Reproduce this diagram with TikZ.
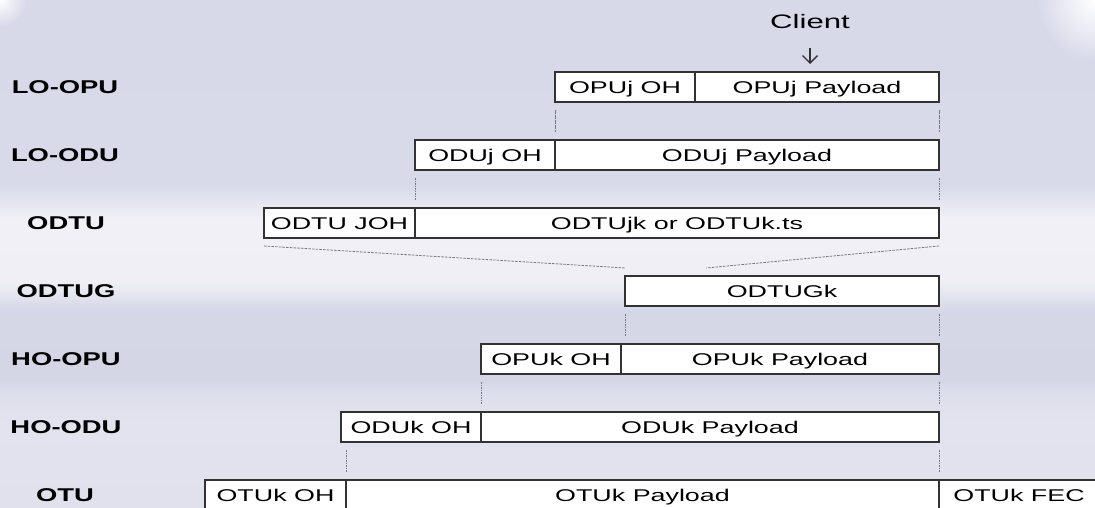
\documentclass[tikz,border=0pt]{standalone}
\usepackage{fontspec}
\setmainfont{Liberation Sans}
\usepackage{graphicx}
\usetikzlibrary{arrows.meta}

% background band colours (top to bottom)
\definecolor{bgA}{RGB}{215,217,233}
\definecolor{bgB}{RGB}{216,218,233}
\definecolor{bgC}{RGB}{222,224,237}
\definecolor{bgD}{RGB}{232,233,242}
\definecolor{bgE}{RGB}{240,240,246}
\definecolor{bgF}{RGB}{239,239,245}
\definecolor{bgG}{RGB}{230,231,240}
\definecolor{bgH}{RGB}{220,222,235}
\definecolor{bgI}{RGB}{213,215,231}
\definecolor{bgJ}{RGB}{212,214,230}
\definecolor{bgK}{RGB}{220,222,235}
\definecolor{bgL}{RGB}{226,227,238}
\definecolor{bgM}{RGB}{224,225,237}
\definecolor{boxline}{RGB}{50,50,50}
\definecolor{guidegray}{RGB}{118,118,128}

% wide lettering
\newcommand{\cw}[1]{\scalebox{1.58}[1]{#1}}
\newcommand{\lw}[1]{\scalebox{1.48}[1]{#1}}

\begin{document}
\begin{tikzpicture}[x=1pt,y=-1pt,
  cell/.style={draw=boxline, fill=white, line width=1.4pt,
    minimum height=30pt, inner sep=0pt, outer sep=0pt, anchor=north west,
    font=\fontsize{17}{20}\selectfont, text height=12.2pt, text depth=0pt},
  rowlabel/.style={font=\fontsize{18.5}{22}\selectfont\bfseries, inner sep=0pt,
    text height=13.3pt, text depth=0pt},
  guide/.style={draw=guidegray, line width=1pt, dash pattern=on 1.6pt off 0.9pt},
  slant/.style={draw=guidegray, line width=0.8pt, dash pattern=on 2.5pt off 1.2pt},
  clientarrow/.style={draw=boxline, line width=1.3pt,
    -{Straight Barb[length=7.5pt,width=15pt]}},
]
\useasboundingbox (0,0) rectangle (1095,508);
\clip (0,0) rectangle (1095,508);

% background bands
\shade[top color=bgA, bottom color=bgB] (0,0) rectangle (1095,185);
\shade[top color=bgB, bottom color=bgC] (0,185) rectangle (1095,195);
\shade[top color=bgC, bottom color=bgD] (0,195) rectangle (1095,207);
\shade[top color=bgD, bottom color=bgE] (0,207) rectangle (1095,218);
\shade[top color=bgE, bottom color=bgF] (0,218) rectangle (1095,282);
\shade[top color=bgF, bottom color=bgG] (0,282) rectangle (1095,292);
\shade[top color=bgG, bottom color=bgH] (0,292) rectangle (1095,302);
\shade[top color=bgH, bottom color=bgI] (0,302) rectangle (1095,312);
\shade[top color=bgI, bottom color=bgJ] (0,312) rectangle (1095,380);
\shade[top color=bgJ, bottom color=bgK] (0,380) rectangle (1095,392);
\shade[top color=bgK, bottom color=bgL] (0,392) rectangle (1095,420);
\shade[top color=bgL, bottom color=bgM] (0,420) rectangle (1095,508);

% light corners
\shade[inner color=white, outer color=bgA] (0,0) circle (26pt);
\shade[inner color=white, outer color=bgA] (1095,0) ellipse (58pt and 62pt);

% row labels
\node[rowlabel] (lLOOPU) at (65,87)  {\lw{LO-OPU}};
\node[rowlabel] (lLOODU) at (65,155) {\lw{LO-ODU}};
\node[rowlabel] (lODTU)  at (66,223) {\lw{ODTU}};
\node[rowlabel] (lODTUG) at (66,291) {\lw{ODTUG}};
\node[rowlabel] (lHOOPU) at (66,359) {\lw{HO-OPU}};
\node[rowlabel] (lHOODU) at (66,427) {\lw{HO-ODU}};
\node[rowlabel] (lOTU)   at (65,495) {\lw{OTU}};

% LO-OPU
\node[cell, minimum width=140pt] (opujoh) at (555,72) {\cw{OPUj OH}};
\node[cell, minimum width=244pt] (opujpl) at (695,72) {\cw{OPUj Payload}};
% LO-ODU
\node[cell, minimum width=140pt] (odujoh) at (415,140) {\cw{ODUj OH}};
\node[cell, minimum width=384pt] (odujpl) at (555,140) {\cw{ODUj Payload}};
% ODTU
\node[cell, minimum width=151pt] (odtujoh) at (264,208) {\cw{ODTU JOH}};
\node[cell, minimum width=524pt] (odtupl)  at (415,208) {\cw{ODTUjk or ODTUk.ts}};
% ODTUG
\node[cell, minimum width=314pt] (odtug) at (625,276) {\cw{ODTUGk}};
% HO-OPU
\node[cell, minimum width=140pt] (opukoh) at (481,344) {\cw{OPUk OH}};
\node[cell, minimum width=318pt] (opukpl) at (621,344) {\cw{OPUk Payload}};
% HO-ODU
\node[cell, minimum width=140pt] (odukoh) at (341,412) {\cw{ODUk OH}};
\node[cell, minimum width=458pt] (odukpl) at (481,412) {\cw{ODUk Payload}};
% OTU
\node[cell, minimum width=141pt] (otukoh)  at (205,480) {\cw{OTUk OH}};
\node[cell, minimum width=593pt] (otukpl)  at (346,480) {\cw{OTUk Payload}};
\node[cell, minimum width=160pt] (otukfec) at (939,480) {\cw{OTUk FEC}};

% client input
\node[font=\fontsize{19.5}{23}\selectfont, inner sep=0pt, text height=14pt, text depth=0pt]
  (client) at (810,22) {\scalebox{1.6}[1]{Client}};
\draw[clientarrow] ([yshift=-19pt]client.south) -- ([yshift=8pt]client.south |- opujpl.north);

% mapping guides
\draw[guide] ([yshift=-8pt]opujoh.south west) -- ([yshift=8pt]odujpl.north west);
\draw[guide] ([yshift=-8pt]opujpl.south east) -- ([yshift=8pt]odujpl.north east);
\draw[guide] ([yshift=-8pt]odujoh.south west) -- ([yshift=8pt]odtupl.north west);
\draw[guide] ([yshift=-8pt]odujpl.south east) -- ([yshift=8pt]odtupl.north east);
\draw[slant] ([yshift=-8pt]odtujoh.south west) -- ([yshift=8pt]odtug.north west);
\draw[slant] ([yshift=-8pt]odtupl.south east) -- ([xshift=81pt,yshift=8pt]odtug.north west);
\draw[guide] ([yshift=-8pt]odtug.south west) -- ([yshift=8pt]odtug.south west |- opukpl.north);
\draw[guide] ([yshift=-8pt]odtug.south east) -- ([yshift=8pt]opukpl.north east);
\draw[guide] ([yshift=-8pt]opukoh.south west) -- ([yshift=8pt]odukpl.north west);
\draw[guide] ([yshift=-8pt]opukpl.south east) -- ([yshift=8pt]odukpl.north east);
\draw[guide] ([yshift=-8pt]otukpl.north west |- odukoh.south) -- ([yshift=8pt]otukpl.north west);
\draw[guide] ([yshift=-8pt]odukpl.south east) -- ([yshift=8pt]otukpl.north east);
\end{tikzpicture}
\end{document}
